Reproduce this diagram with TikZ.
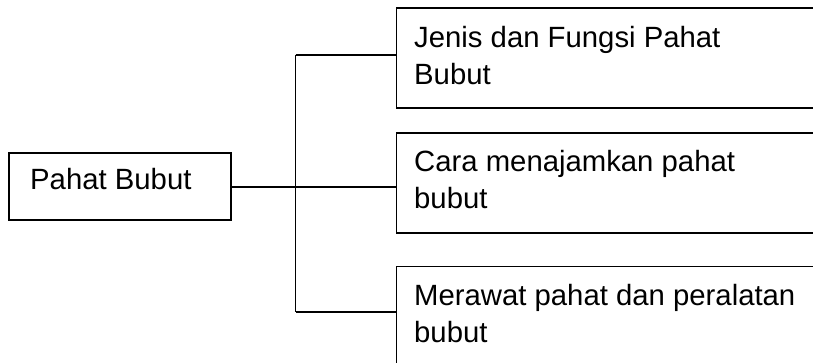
\documentclass[tikz,border=0pt]{standalone}
\usepackage{fontspec}
\setmainfont{Liberation Sans}
\begin{document}
\begin{tikzpicture}[x=1pt,y=-1pt,
  box/.style={draw,line width=1.7pt,rectangle,inner sep=0pt,anchor=north west},
  lbl/.style={anchor=base west,inner sep=0pt,font=\fontsize{29.3}{37}\selectfont},
  conn/.style={line width=1.7pt}]
\useasboundingbox (0,0) rectangle (813,363);
\clip (0,0) rectangle (813,363);
% boxes
\node[box,minimum width=222pt,minimum height=67pt] (root) at (8,152) {};
\node[box,minimum width=440pt,minimum height=100pt] (b1) at (395.5,7.5) {};
\node[box,minimum width=440pt,minimum height=100pt] (b2) at (395.5,132.3) {};
\node[box,minimum width=440pt,minimum height=120pt] (b3) at (395.5,265.7) {};
% texts
\node[lbl] (t0) at (30,189.3) {Pahat Bubut};
\node[lbl] (t1a) at (414,47.3) {Jenis dan Fungsi Pahat};
\node[lbl] (t1b) at (414,84.3) {Bubut};
\node[lbl] (t2a) at (414,171.7) {Cara menajamkan pahat};
\node[lbl] (t2b) at (414,208.5) {bubut};
\node[lbl] (t3a) at (414,305) {Merawat pahat dan peralatan};
\node[lbl] (t3b) at (414,342) {bubut};
% connectors
\coordinate (j1) at (295.5,55);
\coordinate (j2) at (295.5,187);
\coordinate (j3) at (295.5,312);
\draw[conn] (root.east |- j2) -- (j2 -| b2.west);
\draw[conn] (j1) -- (j1 -| b1.west);
\draw[conn] (j3) -- (j3 -| b3.west);
\draw[conn] (j1) -- (j3);
\end{tikzpicture}
\end{document}
